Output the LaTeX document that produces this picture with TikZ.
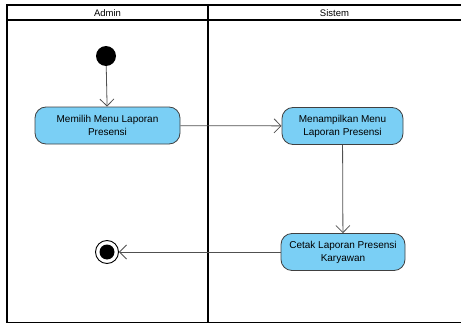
\documentclass[tikz,border=0pt]{standalone}
\usepackage{fontspec}
\setmainfont{Liberation Sans}
\usetikzlibrary{arrows.meta}
\definecolor{actfill}{HTML}{7ACFF5}
\definecolor{actdraw}{HTML}{404040}
\definecolor{flowline}{HTML}{505050}
\begin{document}
\begin{tikzpicture}[x=1pt,y=-1pt,
  lane/.style={line width=1.6pt,black},
  action/.style={draw=actdraw,line width=0.8pt,fill=actfill,rounded corners=11pt,
    minimum height=37pt,align=center,inner sep=2pt,
    font=\fontsize{10}{13}\selectfont},
  flow/.style={draw=flowline,line width=0.8pt,-{Straight Barb[length=7pt,width=14pt,line width=0.8pt]}},
  lanetitle/.style={font=\fontsize{9.5}{11}\selectfont}]
\useasboundingbox (0,0) rectangle (461,324);
% swimlane frame
\draw[lane] (461,5) -- (7,5) -- (7,322.5) -- (461,322.5);
\draw[lane] (7,20) -- (461,20);
\draw[lane] (208,5) -- (208,322.5);
\node[lanetitle] (tadmin) at (107.5,13) {Admin};
\node[lanetitle] (tsistem) at (334.5,13) {Sistem};
% start and end
\node[circle,fill=black,minimum size=20pt,inner sep=0pt] (start) at (106,56) {};
\node[circle,draw=black,line width=0.9pt,fill=white,minimum size=23pt,inner sep=0pt] (end) at (107,252) {};
\node[circle,fill=black,minimum size=15pt,inner sep=0pt] (endin) at (end.center) {};
% actions
\node[action,minimum width=145pt] (pilih) at (107.5,125.5) {Memilih Menu Laporan\\Presensi};
\node[action,minimum width=121pt] (tampil) at (342.5,126) {Menampilkan Menu\\Laporan Presensi};
\node[action,minimum width=124pt] (cetak) at (343,252) {Cetak Laporan Presensi\\Karyawan};
% flows
\draw[flow] (start) -- (pilih);
\draw[flow] (pilih) -- (tampil);
\draw[flow] (tampil) -- (cetak);
\draw[flow] (cetak) -- (end);
\end{tikzpicture}
\end{document}
